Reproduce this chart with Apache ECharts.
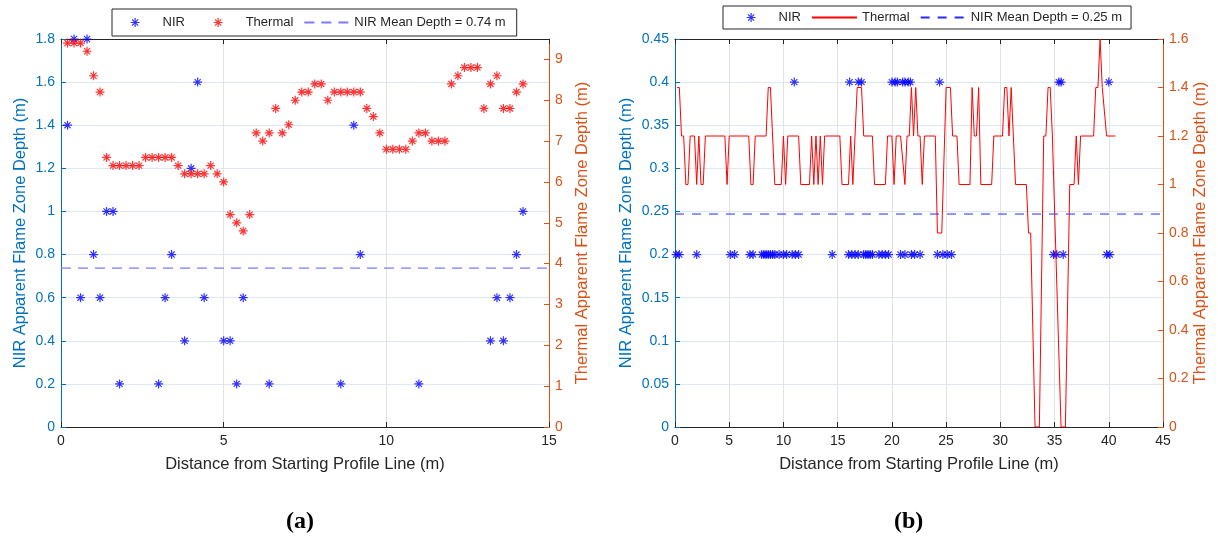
<!DOCTYPE html>
<html><head><meta charset="utf-8">
<script src="https://cdn.jsdelivr.net/npm/echarts@6/dist/echarts.min.js"></script>
<style>html,body{margin:0;padding:0;background:#fff}#c{width:1218px;height:540px}</style>
</head><body><div id="c"></div>
<script>
// ---------- Data (a) ----------
const nirA = [[0.2,1.4],[0.4,1.8],[0.6,0.6],[0.8,1.8],[1.0,0.8],[1.2,0.6],[1.4,1.0],[1.6,1.0],[1.8,0.2],
  [3.0,0.2],[3.2,0.6],[3.4,0.8],[3.8,0.4],[4.0,1.2],[4.2,1.6],[4.4,0.6],[5.0,0.4],[5.2,0.4],[5.4,0.2],
  [5.6,0.6],[6.4,0.2],[8.6,0.2],[9.0,1.4],[9.2,0.8],[11.0,0.2],[13.2,0.4],[13.4,0.6],[13.6,0.4],
  [13.8,0.6],[14.0,0.8],[14.2,1.0]];
const thermalA = [[0.2,9.4],[0.4,9.4],[0.6,9.4],[0.8,9.2],[1.0,8.6],[1.2,8.2],[1.4,6.6],[1.6,6.4],[1.8,6.4],
  [2.0,6.4],[2.2,6.4],[2.4,6.4],[2.6,6.6],[2.8,6.6],[3.0,6.6],[3.2,6.6],[3.4,6.6],[3.6,6.4],[3.8,6.2],
  [4.0,6.2],[4.2,6.2],[4.4,6.2],[4.6,6.4],[4.8,6.2],[5.0,6.0],[5.2,5.2],[5.4,5.0],[5.6,4.8],[5.8,5.2],
  [6.0,7.2],[6.2,7.0],[6.4,7.2],[6.6,7.8],[6.8,7.2],[7.0,7.4],[7.2,8.0],[7.4,8.2],[7.6,8.2],[7.8,8.4],
  [8.0,8.4],[8.2,8.0],[8.4,8.2],[8.6,8.2],[8.8,8.2],[9.0,8.2],[9.2,8.2],[9.4,7.8],[9.6,7.6],[9.8,7.2],
  [10.0,6.8],[10.2,6.8],[10.4,6.8],[10.6,6.8],[10.8,7.0],[11.0,7.2],[11.2,7.2],[11.4,7.0],[11.6,7.0],
  [11.8,7.0],[12.0,8.4],[12.2,8.6],[12.4,8.8],[12.6,8.8],[12.8,8.8],[13.0,7.8],[13.2,8.4],[13.4,8.6],
  [13.6,7.8],[13.8,7.8],[14.0,8.2],[14.2,8.4]];
const nirMeanA = 0.737;
const xTicksA = [0,5,10,15];
const nirTicksA = [0,0.2,0.4,0.6,0.8,1.0,1.2,1.4,1.6,1.8];
const thermalTicksA = [0,1,2,3,4,5,6,7,8,9];

// ---------- Data (b) ----------
const nirB = [[0.1,0.2],[0.4,0.2],[2.0,0.2],[5.1,0.2],[5.5,0.2],[6.9,0.2],[7.2,0.2],[8.0,0.2],[8.2,0.2],
  [8.4,0.2],[8.6,0.2],[8.8,0.2],[9.0,0.2],[9.2,0.2],[9.6,0.2],[10.0,0.2],[10.3,0.2],[10.8,0.2],[11.0,0.4],
  [11.1,0.2],[11.4,0.2],[14.5,0.2],[16.0,0.2],[16.1,0.4],[16.3,0.2],[16.6,0.2],[16.9,0.2],[16.9,0.4],
  [17.2,0.4],[17.4,0.2],[17.6,0.2],[17.8,0.2],[18.0,0.2],[18.2,0.2],[18.8,0.2],[19.1,0.2],[19.4,0.2],
  [19.7,0.2],[20.0,0.4],[20.3,0.4],[20.5,0.4],[20.8,0.2],[21.0,0.4],[21.2,0.2],[21.2,0.4],[21.5,0.4],
  [21.7,0.4],[21.8,0.2],[22.1,0.2],[22.6,0.2],[24.2,0.2],[24.4,0.4],[24.7,0.2],[25.1,0.2],[25.5,0.2],
  [34.9,0.2],[35.2,0.2],[35.4,0.4],[35.6,0.4],[35.8,0.2],[39.8,0.2],[40.0,0.4],[40.1,0.2]];
const thermalB = [[0.2,1.4],[0.4,1.4],[0.6,1.2],[0.8,1.2],[1.0,1.0],[1.2,1.0],[1.4,1.2],[1.8,1.2],[2.0,1.0],
  [2.2,1.2],[2.4,1.0],[2.6,1.0],[2.8,1.2],[4.6,1.2],[4.8,1.0],[5.0,1.2],[6.8,1.2],[7.0,1.0],[7.2,1.0],
  [7.4,1.2],[8.4,1.2],[8.6,1.4],[8.8,1.4],[9.2,1.0],[9.8,1.0],[10.0,1.2],[10.2,1.0],[10.4,1.2],[11.4,1.2],
  [11.6,1.0],[12.4,1.0],[12.6,1.2],[12.8,1.0],[13.0,1.2],[13.2,1.0],[13.4,1.2],[13.6,1.0],[13.8,1.2],
  [15.2,1.2],[15.4,1.0],[16.0,1.0],[16.2,1.2],[16.4,1.0],[16.8,1.4],[17.2,1.4],[17.4,1.2],[18.2,1.2],
  [18.4,1.0],[19.4,1.0],[19.6,1.2],[20.0,1.2],[20.2,1.0],[20.4,1.2],[20.8,1.2],[21.2,1.0],[21.4,1.2],
  [21.6,1.2],[21.8,1.4],[22.0,1.2],[22.2,1.4],[22.4,1.2],[22.6,1.2],[22.8,1.0],[23.0,1.2],[24.0,1.2],
  [24.2,0.8],[24.6,0.8],[25.0,1.4],[25.4,1.4],[25.6,1.2],[26.0,1.2],[26.2,1.0],[27.2,1.0],[27.4,1.4],
  [27.6,1.2],[27.8,1.2],[28.0,1.4],[28.2,1.0],[29.2,1.0],[29.4,1.2],[30.2,1.2],[30.4,1.4],[30.6,1.4],
  [30.8,1.2],[31.0,1.4],[31.4,1.0],[32.4,1.0],[32.6,0.8],[32.8,0.8],[33.2,0],[33.6,0],[34.0,1.2],
  [34.2,1.2],[34.4,1.4],[34.6,1.4],[34.8,1.2],[35.6,0],[36.0,0],[36.4,1.0],[36.8,1.0],[37.0,1.2],
  [37.2,1.0],[37.4,1.2],[38.6,1.2],[38.8,1.4],[39.0,1.4],[39.2,1.6],[39.4,1.4],[39.8,1.2],[40.6,1.2]];
const nirMeanB = 0.247;
const xTicksB = [0,5,10,15,20,25,30,35,40,45];
const nirTicksB = [0,0.05,0.1,0.15,0.2,0.25,0.3,0.35,0.4,0.45];
const thermalTicksB = [0,0.2,0.4,0.6,0.8,1.0,1.2,1.4,1.6];

const xTitle = 'Distance from Starting Profile Line (m)';
const nirTitle = 'NIR Apparent Flame Zone Depth (m)';
const thermalTitle = 'Thermal Apparent Flame Zone Depth (m)';

// ---------- Styles ----------
const FONT = 'Liberation Sans, Arial, sans-serif';
const DARK = '#262626';
const BLUE_AX = '#0072BD';
const ORANGE_AX = '#D95319';
const STAR = 'path://M5,0L5,10M0,5L10,5M1.6,1.6L8.4,8.4M1.6,8.4L8.4,1.6';
const TITLE_SIZE = 16.5;

const chart = echarts.init(document.getElementById('c'), null, {renderer: 'canvas'});

function xAxes(gridIndex, ticks) {
  const min = ticks[0], max = ticks[ticks.length - 1], interval = ticks[1] - ticks[0];
  return [{
    type: 'value', gridIndex, position: 'bottom', min, max, interval,
    axisLine: {show: true, onZero: false, lineStyle: {color: DARK, width: 1}},
    axisTick: {show: true, inside: true, length: 5, lineStyle: {color: DARK}},
    axisLabel: {color: DARK, fontSize: 14, fontFamily: FONT, margin: 7},
    splitLine: {show: true, lineStyle: {color: '#e2e2e2', width: 1}},
    name: xTitle, nameLocation: 'middle', nameGap: 29,
    nameTextStyle: {color: DARK, fontSize: TITLE_SIZE, fontFamily: FONT}
  }, {
    type: 'value', gridIndex, position: 'top', min, max, interval,
    axisLine: {show: true, onZero: false, lineStyle: {color: DARK, width: 1}},
    axisTick: {show: true, inside: true, length: 5, lineStyle: {color: DARK}},
    axisLabel: {show: false}, splitLine: {show: false}
  }];
}
function yAxes(gridIndex, leftTicks, rightTicks, rightMax, leftGap, rightGap) {
  return [{
    type: 'value', gridIndex, position: 'left',
    min: leftTicks[0], max: leftTicks[leftTicks.length - 1], interval: leftTicks[1] - leftTicks[0],
    axisLine: {show: true, onZero: false, lineStyle: {color: BLUE_AX, width: 1}},
    axisTick: {show: true, inside: true, length: 5, lineStyle: {color: BLUE_AX}},
    axisLabel: {color: BLUE_AX, fontSize: 14, fontFamily: FONT, margin: 6},
    splitLine: {show: true, lineStyle: {color: '#dbe9f4', width: 1}},
    name: nirTitle, nameLocation: 'middle', nameRotate: 90, nameGap: leftGap,
    nameTextStyle: {color: BLUE_AX, fontSize: TITLE_SIZE, fontFamily: FONT}
  }, {
    type: 'value', gridIndex, position: 'right',
    min: rightTicks[0], max: rightMax,
    axisLine: {show: true, onZero: false, lineStyle: {color: ORANGE_AX, width: 1}},
    axisTick: {show: true, inside: true, length: 5, lineStyle: {color: ORANGE_AX}, customValues: rightTicks},
    axisLabel: {color: ORANGE_AX, fontSize: 14, fontFamily: FONT, margin: 6, customValues: rightTicks},
    splitLine: {show: false},
    name: thermalTitle, nameLocation: 'middle', nameRotate: 90, nameGap: rightGap,
    nameTextStyle: {color: ORANGE_AX, fontSize: TITLE_SIZE, fontFamily: FONT}
  }];
}

const lbl = n => n.split('#')[0];
const meanNameA = 'NIR Mean Depth = ' + nirMeanA.toFixed(2) + ' m#a';
const meanNameB = 'NIR Mean Depth = ' + nirMeanB.toFixed(2) + ' m#b';

const starStyle = c => ({color: c, borderColor: c, borderWidth: 1.2});
const noDot = {color: 'rgba(0,0,0,0)', borderWidth: 0, opacity: 0};
const legendText = {color: DARK, fontSize: 13, fontFamily: FONT};

const option = {
  animation: false,
  backgroundColor: '#ffffff',
  textStyle: {fontFamily: FONT},
  grid: [
    {left: 61, top: 39, width: 488, height: 388},
    {left: 675, top: 39, width: 488, height: 388}
  ],
  xAxis: [...xAxes(0, xTicksA), ...xAxes(1, xTicksB)],
  yAxis: [...yAxes(0, nirTicksA, thermalTicksA, 9.5, 32, 25),
          ...yAxes(1, nirTicksB, thermalTicksB, 1.6, 40, 23)],
  legend: [{
    left: 112, top: 9, orient: 'horizontal', itemWidth: 45, itemHeight: 9, itemGap: 10,
    padding: [7, 11, 7, 18], borderColor: DARK, borderWidth: 1, backgroundColor: '#fff',
    textStyle: legendText, selectedMode: false,
    formatter: n => n === 'NIR#a' ? 'NIR\u00a0\u00a0\u00a0\u00a0\u00a0' : lbl(n),
    data: [
      {name: 'NIR#a', icon: STAR, itemStyle: starStyle('#0000ff')},
      {name: 'Thermal#a', icon: STAR, itemStyle: starStyle('#ff0000')},
      {name: meanNameA, itemStyle: noDot}
    ]
  }, {
    left: 723, top: 6, orient: 'horizontal', itemWidth: 45, itemHeight: 9, itemGap: 10,
    padding: [5, 9, 5, 23], borderColor: DARK, borderWidth: 1, backgroundColor: '#fff',
    textStyle: legendText, formatter: lbl, selectedMode: false,
    data: [
      {name: 'NIR#b', icon: STAR, itemStyle: starStyle('#0000ff')},
      {name: 'Thermal#b', itemStyle: noDot},
      {name: meanNameB, itemStyle: noDot}
    ]
  }],
  series: [
    {name: 'NIR#a', type: 'scatter', xAxisIndex: 0, yAxisIndex: 0, data: nirA,
     symbol: STAR, symbolSize: 9, itemStyle: starStyle('#0000ff')},
    {name: 'Thermal#a', type: 'scatter', xAxisIndex: 0, yAxisIndex: 1, data: thermalA,
     symbol: STAR, symbolSize: 9, itemStyle: starStyle('#ff0000')},
    {name: meanNameA, type: 'line', xAxisIndex: 0, yAxisIndex: 0, symbol: 'none',
     data: [[xTicksA[0], nirMeanA], [xTicksA[xTicksA.length - 1], nirMeanA]],
     lineStyle: {color: '#7b7bff', width: 1.2, type: [10, 7]}, itemStyle: {color: '#7b7bff'}},
    {name: 'NIR#b', type: 'scatter', xAxisIndex: 2, yAxisIndex: 2, data: nirB,
     symbol: STAR, symbolSize: 9, itemStyle: starStyle('#0000ff')},
    {name: 'Thermal#b', type: 'line', xAxisIndex: 2, yAxisIndex: 3, data: thermalB, symbol: 'none',
     lineStyle: {color: '#ff0000', width: 1}, itemStyle: {color: '#ff0000'}},
    {name: meanNameB, type: 'line', xAxisIndex: 2, yAxisIndex: 2, symbol: 'none',
     data: [[xTicksB[0], nirMeanB], [xTicksB[xTicksB.length - 1], nirMeanB]],
     lineStyle: {color: '#2a2aff', width: 1, type: [9, 8]}, itemStyle: {color: '#2a2aff'}}
  ],
  graphic: [
    {type: 'text', left: 286, top: 510, style: {text: '(a)', font: 'bold 24px "Liberation Serif", "Times New Roman", serif', fill: '#000'}},
    {type: 'text', left: 894, top: 510, style: {text: '(b)', font: 'bold 24px "Liberation Serif", "Times New Roman", serif', fill: '#000'}}
  ]
};
chart.setOption(option);
</script>
</body></html>
